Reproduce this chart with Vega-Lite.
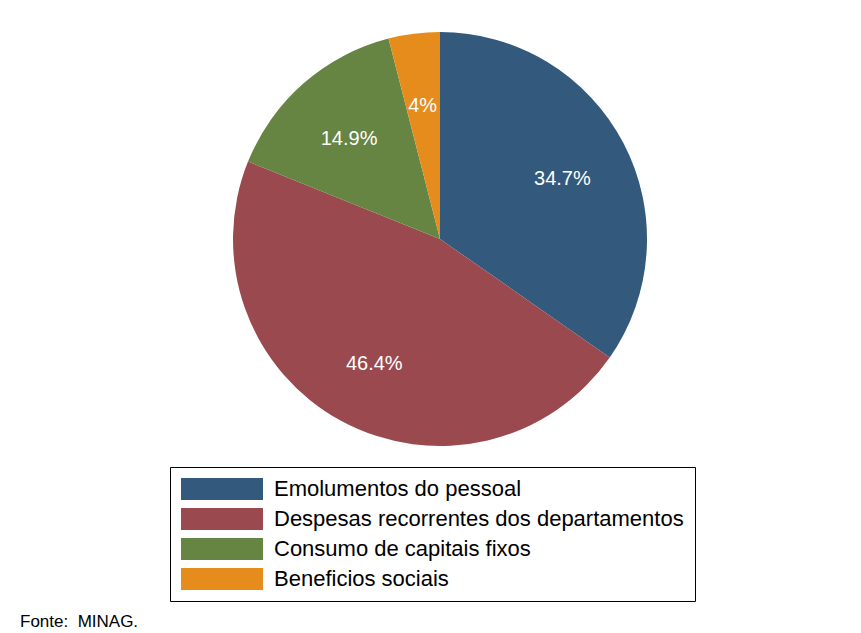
{
  "$schema": "https://vega.github.io/schema/vega-lite/v6.json",
  "autosize": {"type": "none"},
  "width": 414,
  "height": 414,
  "padding": {"left": 233, "top": 32, "right": 214, "bottom": 187},
  "background": "white",
  "config": {"view": {"stroke": null}, "font": "Liberation Sans"},
  "title": {
    "text": "Fonte:\u00a0 MINAG.",
    "orient": "bottom",
    "anchor": "start",
    "frame": "group",
    "fontSize": 17,
    "fontWeight": "normal",
    "color": "black",
    "font": "Liberation Sans",
    "dx": -213,
    "offset": 25,
    "baseline": "alphabetic"
  },
  "data": {
    "values": [
      {"categoria": "Emolumentos do pessoal", "valor": 34.7, "rotulo": "34.7%", "ordem": 1},
      {"categoria": "Despesas recorrentes dos departamentos", "valor": 46.4, "rotulo": "46.4%", "ordem": 2},
      {"categoria": "Consumo de capitais fixos", "valor": 14.9, "rotulo": "14.9%", "ordem": 3},
      {"categoria": "Beneficios sociais", "valor": 4, "rotulo": "4%", "ordem": 4}
    ]
  },
  "encoding": {
    "theta": {"field": "valor", "type": "quantitative", "stack": true},
    "order": {"field": "ordem", "type": "quantitative"},
    "color": {
      "field": "categoria",
      "type": "nominal",
      "scale": {
        "domain": ["Emolumentos do pessoal", "Despesas recorrentes dos departamentos", "Consumo de capitais fixos", "Beneficios sociais"],
        "range": ["#335a7c", "#9a4a4f", "#668442", "#e58c1d"]
      },
      "legend": {
        "title": null,
        "orient": "none",
        "legendX": -63,
        "legendY": 435,
        "direction": "vertical",
        "columns": 1,
        "symbolType": "M-3.727,-1H3.727V1H-3.727Z",
        "symbolSize": 484,
        "symbolStrokeWidth": 0,
        "symbolOpacity": 1,
        "symbolOffset": 30,
        "labelOffset": 41,
        "labelFontSize": 22,
        "labelFont": "Liberation Sans",
        "labelColor": "black",
        "labelLimit": 600,
        "rowPadding": 8,
        "padding": 11,
        "strokeColor": "black",
        "fillColor": "white"
      }
    }
  },
  "layer": [
    {"mark": {"type": "arc", "outerRadius": 207}},
    {
      "mark": {"type": "text", "radius": 138, "dy": 4, "fontSize": 20, "color": "white", "font": "Liberation Sans", "baseline": "middle", "align": "center"},
      "encoding": {"text": {"field": "rotulo"}, "color": {"value": "white"}}
    }
  ]
}
